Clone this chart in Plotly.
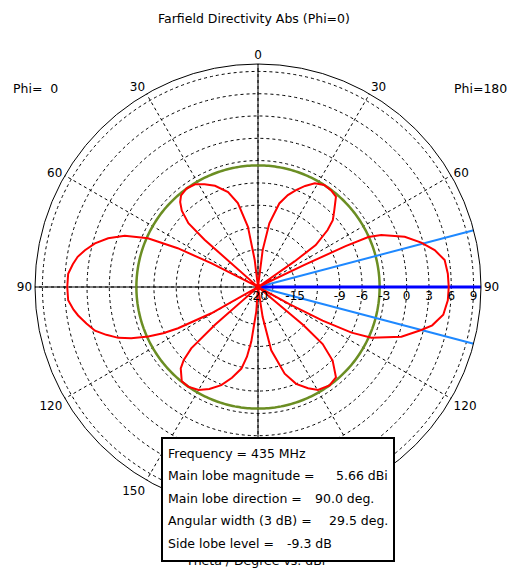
import numpy as np
import plotly.graph_objects as go

# ── data (theta in deg, directivity in dBi) ──
theta_phi0 = [0, 4, 7, 9.5, 13.5, 17.5, 23, 27.5, 31.5, 36, 40, 42.5, 45, 47.5, 48.5, 49.5,
              56, 62, 63, 64.2, 66.1, 69, 72, 75, 78, 80.5, 83, 86, 90,
              94, 97, 99, 102, 105, 107.5, 110, 112, 114.3, 116, 117.3, 119.4, 120.5,
              126, 130.5, 131.3, 132.6, 134.5, 136.5, 141, 145, 150, 154.5, 159.5, 164,
              168.5, 171, 173, 176, 178, 180]
dir_phi0 = [-20, -20, -16.3, -11.8, -8.4, -6.6, -5.2, -4.4, -3.8, -3.64, -3.9, -4.5, -5.5, -7.3, -10.4, -20,
            -20, -20, -13, -8, -3.8, -0.8, 1.2, 2.7, 3.8, 4.6, 5.1, 5.6, 5.66,
            5.6, 5.0, 4.5, 3.6, 2.7, 1.4, 0.0, -1.6, -3.8, -5.8, -7.9, -12.8, -20,
            -20, -20, -12.3, -7.8, -6.0, -4.9, -3.7, -3.64, -4.0, -4.8, -5.9, -7.3,
            -8.8, -10.5, -12.6, -16.7, -20, -20]

theta_phi180 = [0, 4, 7.2, 10.1, 14.3, 18, 21.4, 25, 28.7, 33, 37, 40.8, 44.7, 48.2, 50.7, 54, 55, 56.5,
                60, 63.5, 64.5, 65, 65.6, 67.1, 71.1, 74.8, 78.2, 81.8, 86, 90,
                94, 98.5, 102.4, 104.75, 109.1, 114.1, 116, 117.5, 118.5, 119.5,
                125, 129, 130, 131.4, 134.6, 139.2, 144, 149.8, 153.7, 158.5, 162.9, 168.2, 171.2, 174, 180]
dir_phi180 = [-20, -20, -15, -11.3, -8.4, -7.0, -6.0, -5.0, -4.1, -3.64, -3.7, -3.95, -5.4, -6.5, -7.9, -10.4, -14, -20,
              -20, -20, -13, -7, -3.7, -2.0, 0.86, 2.76, 4.28, 5.37, 5.6, 5.66,
              5.6, 5.2, 4.0, 2.72, 0.41, -3.3, -6.0, -10.2, -15.2, -20,
              -20, -20, -12, -8.4, -5.9, -3.95, -3.64, -3.96, -4.8, -6.0, -7.8, -11.3, -15.9, -20, -20]

main_lobe_mag = 5.66      # dBi
main_lobe_dir = 90.0      # deg
angular_width = 29.5      # deg (3 dB)
side_lobe_level = -9.3    # dB
frequency = 435           # MHz

r_range = [-20, 10]
radial_ticks = [-20, -18, -15, -12, -9, -6, -3, 0, 3, 6, 9]
radial_labels = ["-20", "", "-15", "", "-9", "-6", "-3", "0", "3", "6", "9"]
angle_ticks = [0, 30, 60, 90, 120, 150, 180, 210, 240, 270, 300, 330]
angle_labels = ["0", "30", "60", "90", "120", "150", "", "150", "120", "90", "60", "30"]

# ── geometry (pixels of the 532x574 window; page body adds an 8px margin) ──
OFF = 8
W, H = 532 - OFF, 574 - OFF
CX, CY, RAD = 258, 287, 223
FONT = "DejaVu Sans"


def px(x):
    return (x - OFF) / W


def py(y):
    return 1 - (y - OFF) / H


fig = go.Figure()

# solid cross through the centre
for th in ([0, 180], [90, 270]):
    fig.add_trace(go.Scatterpolar(
        r=[r_range[1], r_range[1]], theta=th, mode="lines",
        line=dict(color="black", width=1), hoverinfo="skip",
    ))

# side lobe level circle
sll = main_lobe_mag + side_lobe_level
circ = np.linspace(0, 360, 361)
fig.add_trace(go.Scatterpolar(
    r=[sll] * len(circ), theta=circ, mode="lines",
    line=dict(color="#6B8E23", width=2.5), hoverinfo="skip",
))

# 3 dB beam edges and main lobe direction
half = angular_width / 2
for th in (main_lobe_dir - half, main_lobe_dir + half):
    fig.add_trace(go.Scatterpolar(
        r=r_range, theta=[th, th], mode="lines",
        line=dict(color="#1E88FF", width=2), hoverinfo="skip",
    ))
fig.add_trace(go.Scatterpolar(
    r=r_range, theta=[main_lobe_dir, main_lobe_dir], mode="lines",
    line=dict(color="#0000FF", width=3), hoverinfo="skip",
))

# pattern: Phi=0 on the left half, Phi=180 on the right half
fig.add_trace(go.Scatterpolar(
    r=dir_phi0, theta=[360 - t for t in theta_phi0], mode="lines",
    line=dict(color="#FF0000", width=2), name="Phi=0",
))
fig.add_trace(go.Scatterpolar(
    r=dir_phi180, theta=theta_phi180, mode="lines",
    line=dict(color="#FF0000", width=2), name="Phi=180",
))

tf = dict(family=FONT, size=12, color="black")
bf = dict(family=FONT, size=12.5, color="black")
ann = []


def txt(s, x, y, xa="center", font=tf):
    ann.append(dict(text=s, x=px(x), y=py(y), xref="paper", yref="paper",
                    xanchor=xa, yanchor="middle", showarrow=False, font=font))


txt("Farfield Directivity Abs (Phi=0)", 254, 18, font=bf)
txt("Phi=  0".replace(" ", "\u00a0"), 11, 88, "left", font=bf)
txt("Phi=180", 452, 88, "left", font=bf)
txt("Theta / Degree vs. dBi", 255, 560, font=bf)

# info box (covers the axis caption, as in the original)
ann.append(dict(text=" ", x=px(161), y=py(437), xref="paper", yref="paper",
                xanchor="left", yanchor="top", showarrow=False,
                width=230, height=121, borderpad=0,
                bgcolor="white", bordercolor="black", borderwidth=2))

rows = [453, 475.5, 498, 520.5, 543]
txt(f"Frequency = {frequency} MHz", 166, rows[0], "left", bf)
txt("Main lobe magnitude =", 166, rows[1], "left", bf)
txt(f"{main_lobe_mag:.2f} dBi", 390, rows[1], "right", bf)
txt("Main lobe direction =", 166, rows[2], "left", bf)
txt(f"{main_lobe_dir:.1f} deg.", 313, rows[2], "left", bf)
txt("Angular width (3 dB) =", 166, rows[3], "left", bf)
txt(f"{angular_width:.1f} deg.", 327, rows[3], "left", bf)
txt("Side lobe level =", 166, rows[4], "left", bf)
txt(f"{side_lobe_level:.1f} dB", 285, rows[4], "left", bf)

fig.update_layout(
    width=W, height=H,
    margin=dict(l=0, r=0, t=0, b=0),
    paper_bgcolor="white",
    showlegend=False,
    font=tf,
    annotations=ann,
    polar=dict(
        domain=dict(x=[px(CX - RAD), px(CX + RAD)], y=[py(CY + RAD), py(CY - RAD)]),
        bgcolor="white",
        angularaxis=dict(
            rotation=90, direction="clockwise",
            tickmode="array", tickvals=angle_ticks, ticktext=angle_labels,
            showgrid=True, gridcolor="black", gridwidth=1, griddash="3px,3px",
            showline=True, linecolor="black", linewidth=1,
            ticks="", tickfont=tf,
        ),
        radialaxis=dict(
            range=r_range, angle=0, side="clockwise",
            tickmode="array", tickvals=radial_ticks, ticktext=radial_labels,
            showgrid=True, gridcolor="black", gridwidth=1, griddash="3px,3px",
            showline=False, ticks="", tickangle=0, tickfont=tf,
        ),
    ),
)

fig.write_html("out.html")
